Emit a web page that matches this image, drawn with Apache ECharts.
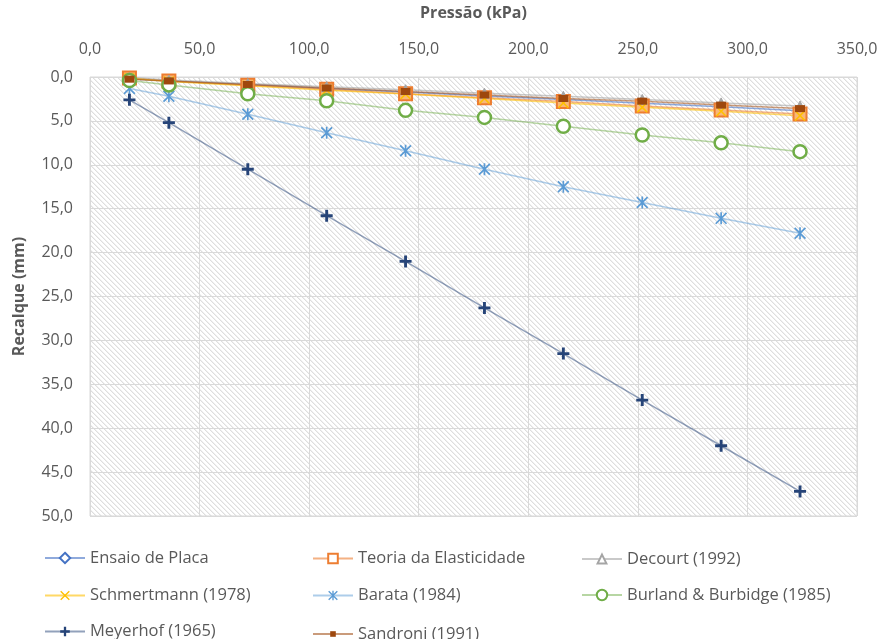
<!DOCTYPE html>
<html>
<head>
<meta charset="utf-8">
<script src="https://cdn.jsdelivr.net/npm/echarts@6/dist/echarts.min.js"></script>
<style>
  html, body { margin: 0; padding: 0; background: #fff; }
  #chart { width: 883px; height: 639px; }
</style>
</head>
<body>
<div id="chart"></div>
<script>
// Pressão aplicada (kPa)
const pressao = [18, 36, 72, 108, 144, 180, 216, 252, 288, 324];

// Recalques (mm) por método
const ensaioPlaca   = [0.2, 0.45, 0.85, 1.3, 1.7, 2.15, 2.55, 3.0, 3.4, 3.85];
const teoriaElast   = [0.1, 0.45, 0.95, 1.4, 1.9, 2.35, 2.8, 3.3, 3.75, 4.2];
const decourt       = [0.05, 0.35, 0.75, 1.1, 1.45, 1.85, 2.2, 2.55, 2.95, 3.3];
const schmertmann   = [0.15, 0.5, 1.0, 1.5, 1.95, 2.45, 2.95, 3.45, 3.9, 4.4];
const barata        = [1.3, 2.2, 4.25, 6.35, 8.4, 10.5, 12.5, 14.3, 16.1, 17.8];
const burland       = [0.4, 0.9, 1.9, 2.7, 3.8, 4.6, 5.6, 6.6, 7.5, 8.5];
const meyerhof      = [2.6, 5.2, 10.5, 15.8, 21.0, 26.3, 31.5, 36.8, 42.0, 47.2];
const sandroni      = [0.25, 0.45, 0.85, 1.25, 1.65, 2.05, 2.45, 2.75, 3.2, 3.6];

const xTicks = { min: 0, max: 350, step: 50 };
const yTicks = { min: 0, max: 50, step: 5 };

// Legend arrangement: three columns, three rows (row centre lines)
const legendColumns = [
  ['Ensaio de Placa', 'Schmertmann (1978)', 'Meyerhof (1965)'],
  ['Teoria da Elasticidade', 'Barata (1984)', 'Sandroni (1991)'],
  ['Decourt (1992)', 'Burland & Burbidge (1985)']
];
const legendColumnLeft = [44, 312, 581];
const legendRowCenter = [556, 593, 629];

const pairs = ys => pressao.map((x, i) => [x, ys[i]]);
const fmt = v => v.toFixed(1).replace('.', ',');

// Light diagonal hatch used as plot-area fill
function hatch() {
  const n = 5;
  const c = document.createElement('canvas');
  c.width = n; c.height = n;
  const ctx = c.getContext('2d');
  const img = ctx.createImageData(n, n);
  for (let y = 0; y < n; y++) {
    for (let x = 0; x < n; x++) {
      const k = ((x - y) % n + n) % n;
      const v = k === 0 ? 222 : (k === 1 ? 240 : 255);
      const p = (y * n + x) * 4;
      img.data[p] = v; img.data[p + 1] = v; img.data[p + 2] = v; img.data[p + 3] = 255;
    }
  }
  ctx.putImageData(img, 0, 0);
  return { image: c, repeat: 'repeat' };
}

const PLUS = 'path://M3.8,0H6.2V3.8H10V6.2H6.2V10H3.8V6.2H0V3.8H3.8Z';
const CROSS = 'path://M1,0L5,4L9,0L10,1L6,5L10,9L9,10L5,6L1,10L0,9L4,5L0,1Z';
const STAR = 'path://M1,0L5,4L9,0L10,1L6,5L10,9L9,10L5,6L1,10L0,9L4,5L0,1Z M4.3,0H5.7V10H4.3Z';

const FONT = 'Open Sans';
const GREY = '#595959';

function serie(name, data, lineColor, symbol, size, itemStyle) {
  return {
    name, type: 'line', data: pairs(data),
    symbol, symbolSize: size, symbolKeepAspect: true,
    showAllSymbol: true,
    lineStyle: { color: lineColor, width: 1.5 },
    itemStyle,
    emphasis: { disabled: true },
    animation: false
  };
}

const series = [
  serie('Ensaio de Placa', ensaioPlaca, 'rgba(68,114,196,0.6)', 'diamond', 11,
        { color: '#ffffff', borderColor: '#4472c4', borderWidth: 2 }),
  serie('Teoria da Elasticidade', teoriaElast, 'rgba(237,125,49,0.6)', 'rect', 13,
        { color: '#f8b878', borderColor: '#ed7d31', borderWidth: 2 }),
  serie('Decourt (1992)', decourt, 'rgba(165,165,165,0.6)', 'triangle', 10,
        { color: '#a5a5a5', borderColor: '#a5a5a5', borderWidth: 1 }),
  serie('Schmertmann (1978)', schmertmann, 'rgba(255,192,0,0.6)', CROSS, 11,
        { color: '#ffc000', borderWidth: 0 }),
  serie('Barata (1984)', barata, 'rgba(91,155,213,0.5)', STAR, 12,
        { color: '#5b9bd5', borderWidth: 0 }),
  serie('Burland & Burbidge (1985)', burland, 'rgba(112,173,71,0.5)', 'circle', 13,
        { color: '#ffffff', borderColor: '#70ad47', borderWidth: 2.5 }),
  serie('Meyerhof (1965)', meyerhof, 'rgba(38,68,120,0.5)', PLUS, 12,
        { color: '#264478', borderWidth: 0 }),
  serie('Sandroni (1991)', sandroni, 'rgba(158,72,14,0.55)', 'rect', [10, 7],
        { color: '#9e480e', borderWidth: 0 })
];

// Per-entry legend icon tweaks (marker size and fill)
const legendIcon = {
  'Teoria da Elasticidade': { h: 12, itemStyle: { color: '#ffffff', borderColor: '#ed7d31', borderWidth: 2 } },
  'Decourt (1992)': { h: 11, itemStyle: { color: '#ffffff', borderColor: '#a5a5a5', borderWidth: 2 } },
  'Sandroni (1991)': { h: 7 },
  'Ensaio de Placa': { h: 13 },
  'Burland & Burbidge (1985)': { h: 13 }
};

// One legend component per entry so each sits in its own grid cell
const legends = [];
legendColumns.forEach((col, c) => {
  col.forEach((name, r) => {
    const tweak = legendIcon[name] || { h: 12 };
    const entry = { name };
    if (tweak.itemStyle) entry.itemStyle = tweak.itemStyle;
    legends.push({
      orient: 'horizontal',
      left: legendColumnLeft[c],
      top: legendRowCenter[r] - tweak.h / 2,
      padding: 0,
      itemWidth: 40,
      itemHeight: tweak.h,
      textStyle: { fontFamily: FONT, fontSize: 16.5, color: GREY, lineHeight: 16 },
      selectedMode: false,
      data: [entry]
    });
  });
});

const chart = echarts.init(document.getElementById('chart'), null, { renderer: 'canvas' });
chart.setOption({
  backgroundColor: '#ffffff',
  animation: false,
  grid: {
    left: 90, right: 26, top: 76, bottom: 123,
    show: true,
    backgroundColor: hatch(),
    borderColor: '#d9d9d9',
    borderWidth: 1
  },
  xAxis: {
    type: 'value',
    position: 'top',
    min: xTicks.min, max: xTicks.max, interval: xTicks.step,
    name: 'Pressão (kPa)',
    nameLocation: 'middle',
    nameGap: 56,
    nameTextStyle: { fontFamily: FONT, fontSize: 16, fontWeight: 'bold', color: GREY },
    axisLine: { show: false },
    axisTick: { show: false },
    axisLabel: { formatter: fmt, fontFamily: FONT, fontSize: 16, color: GREY, margin: 20 },
    splitLine: { show: true, lineStyle: { color: '#d9d9d9', width: 1 } }
  },
  yAxis: {
    type: 'value',
    inverse: true,
    min: yTicks.min, max: yTicks.max, interval: yTicks.step,
    name: 'Recalque (mm)',
    nameLocation: 'middle',
    nameGap: 63,
    nameRotate: 90,
    nameTextStyle: { fontFamily: FONT, fontSize: 16, fontWeight: 'bold', color: GREY },
    axisLine: { show: false },
    axisTick: { show: false },
    axisLabel: { formatter: fmt, fontFamily: FONT, fontSize: 16, color: GREY, margin: 17 },
    splitLine: { show: true, lineStyle: { color: '#d9d9d9', width: 1 } }
  },
  legend: legends,
  series
});
</script>
</body>
</html>
